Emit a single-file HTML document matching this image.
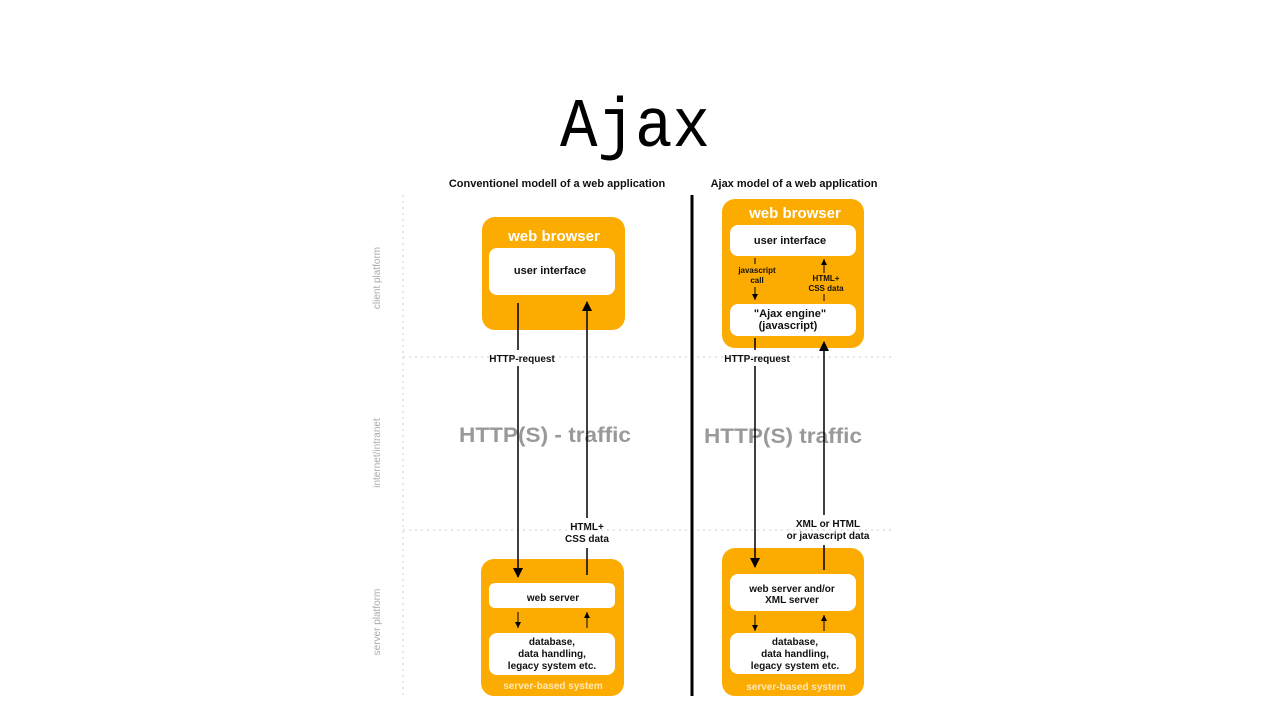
<!DOCTYPE html>
<html><head><meta charset="utf-8"><style>
body{margin:0;background:#fff;width:1279px;height:720px;overflow:hidden}
svg{display:block}
text{font-family:"Liberation Sans",sans-serif}
.b{font-weight:bold;fill:#111}
</style></head><body>
<svg width="1279" height="720" viewBox="0 0 1279 720">
<defs>
<marker id="a" markerWidth="10" markerHeight="10" refX="9" refY="5" orient="auto" markerUnits="userSpaceOnUse"><path d="M0,0 L10,5 L0,10 z" fill="#000"/></marker>
<marker id="s" markerWidth="6" markerHeight="6" refX="6" refY="3" orient="auto" markerUnits="userSpaceOnUse"><path d="M0,0 L6,3 L0,6 z" fill="#000"/></marker>
</defs>
<text x="635" y="146" text-anchor="middle" font-size="70" style="font-family:'Liberation Mono',monospace" textLength="150" lengthAdjust="spacingAndGlyphs">Ajax</text>

<text x="557" y="187" text-anchor="middle" font-size="11" class="b">Conventionel modell of a web application</text>
<text x="794" y="187" text-anchor="middle" font-size="11" class="b">Ajax model of a web application</text>

<g stroke="#ccc" stroke-dasharray="2,4" stroke-width="1" fill="none">
<line x1="403" y1="195" x2="403" y2="696"/>
<line x1="403" y1="357" x2="895" y2="357"/>
<line x1="403" y1="530" x2="895" y2="530"/>
</g>
<g fill="#aaa" font-size="10">
<text transform="translate(380,278) rotate(-90)" text-anchor="middle">client platform</text>
<text transform="translate(380,453) rotate(-90)" text-anchor="middle">internet/intranet</text>
<text transform="translate(380,622) rotate(-90)" text-anchor="middle">server platform</text>
</g>
<line x1="692" y1="195" x2="692" y2="696" stroke="#000" stroke-width="3"/>

<g fill="#fcab00">
<rect x="482" y="217" width="143" height="113" rx="13"/>
<rect x="481" y="559" width="143" height="137" rx="13"/>
<rect x="722" y="199" width="142" height="149" rx="13"/>
<rect x="722" y="548" width="142" height="148" rx="13"/>
</g>
<g fill="#fff">
<rect x="489" y="248" width="126" height="47" rx="8"/>
<rect x="489" y="583" width="126" height="25" rx="6"/>
<rect x="489" y="633" width="126" height="42" rx="8"/>
<rect x="730" y="225" width="126" height="31" rx="8"/>
<rect x="730" y="304" width="126" height="32" rx="8"/>
<rect x="730" y="574" width="126" height="37" rx="8"/>
<rect x="730" y="633" width="126" height="41" rx="8"/>
</g>
<g fill="#fff" font-weight="bold" text-anchor="middle">
<text x="554" y="241" font-size="15">web browser</text>
<text x="795" y="218" font-size="15">web browser</text>
<text x="553" y="689" font-size="10" fill="#ffe9b8">server-based system</text>
<text x="796" y="690" font-size="10" fill="#ffe9b8">server-based system</text>
</g>
<g class="b" text-anchor="middle" font-size="11">
<text x="550" y="274">user interface</text>
<text x="790" y="244">user interface</text>
<text x="790" y="317">"Ajax engine"</text>
<text x="788" y="329">(javascript)</text>
<text x="553" y="601" font-size="10">web server</text>
<text x="552" y="645" font-size="10">database,</text>
<text x="552" y="657" font-size="10">data handling,</text>
<text x="552" y="669" font-size="10">legacy system etc.</text>
<text x="792" y="592" font-size="10">web server and/or</text>
<text x="792" y="603" font-size="10">XML server</text>
<text x="795" y="645" font-size="10">database,</text>
<text x="795" y="657" font-size="10">data handling,</text>
<text x="795" y="669" font-size="10">legacy system etc.</text>
<text x="522" y="362" font-size="10">HTTP-request</text>
<text x="757" y="362" font-size="10">HTTP-request</text>
<text x="587" y="530" font-size="10">HTML+</text>
<text x="587" y="542" font-size="10">CSS data</text>
<text x="828" y="527" font-size="10">XML or HTML</text>
<text x="828" y="539" font-size="10">or javascript data</text>
<text x="757" y="273" font-size="8">javascript</text>
<text x="757" y="283" font-size="8">call</text>
<text x="826" y="281" font-size="8">HTML+</text>
<text x="826" y="291" font-size="8">CSS data</text>
</g>
<g fill="#999" font-weight="bold" font-size="21" text-anchor="middle">
<text x="545" y="442" textLength="172" lengthAdjust="spacingAndGlyphs">HTTP(S) - traffic</text>
<text x="783" y="443" textLength="158" lengthAdjust="spacingAndGlyphs">HTTP(S) traffic</text>
</g>
<g stroke="#000" stroke-width="1.5" fill="none">
<line x1="518" y1="303" x2="518" y2="350"/>
<line x1="518" y1="366" x2="518" y2="577" marker-end="url(#a)"/>
<line x1="587" y1="575" x2="587" y2="548"/>
<line x1="587" y1="518" x2="587" y2="302" marker-end="url(#a)"/>
<line x1="755" y1="338" x2="755" y2="350"/>
<line x1="755" y1="366" x2="755" y2="567" marker-end="url(#a)"/>
<line x1="824" y1="570" x2="824" y2="545"/>
<line x1="824" y1="515" x2="824" y2="342" marker-end="url(#a)"/>
</g>
<g stroke="#000" stroke-width="1" fill="none">
<line x1="518" y1="612" x2="518" y2="628" marker-end="url(#s)"/>
<line x1="587" y1="628" x2="587" y2="612" marker-end="url(#s)"/>
<line x1="755" y1="615" x2="755" y2="631" marker-end="url(#s)"/>
<line x1="824" y1="631" x2="824" y2="615" marker-end="url(#s)"/>
<line x1="755" y1="258" x2="755" y2="264"/>
<line x1="755" y1="287" x2="755" y2="300" marker-end="url(#s)"/>
<line x1="824" y1="301" x2="824" y2="294"/>
<line x1="824" y1="273" x2="824" y2="259" marker-end="url(#s)"/>
</g>
</svg>
</body></html>
